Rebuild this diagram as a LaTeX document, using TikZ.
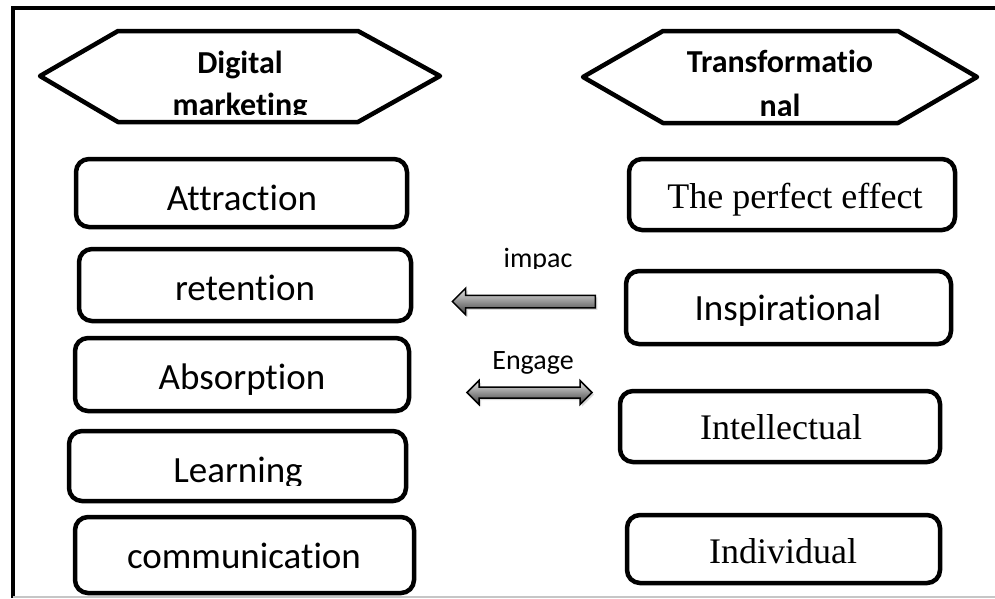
\documentclass[tikz,border=0pt]{standalone}
\usepackage{fontspec}
\setmainfont{Liberation Serif}
\newfontfamily\calibri[Ligatures=NoCommon]{Carlito}
\usetikzlibrary{shapes.arrows,shadows}

\tikzset{
  frameline/.style={line width=4pt, line join=miter},
  hexa/.style={draw, line width=4.5pt, line join=round},
  hextitle/.style={font=\calibri\bfseries\fontsize{32}{38}\selectfont, inner sep=0pt, anchor=base},
  box/.style={draw, line width=4.5pt, rounded corners=13pt, inner sep=0pt},
  sanslbl/.style={font=\calibri\fontsize{37}{44}\selectfont, inner sep=0pt, anchor=base},
  seriflbl/.style={font=\fontsize{36}{43}\selectfont, inner sep=0pt, anchor=base},
  arrowlbl/.style={font=\calibri\fontsize{28}{34}\selectfont, inner sep=0pt, anchor=base},
  blockarrow/.style={draw=black, line width=1.5pt, top color=gray!20, bottom color=black!75,
    inner xsep=0pt, drop shadow={shadow xshift=2pt, shadow yshift=-2pt, opacity=0.3}},
}

\begin{document}
\begin{tikzpicture}[x=1pt, y=-1pt]
\useasboundingbox (0,0) rectangle (995,598);

% frame
\draw[frameline] (995,8) -- (13,8) -- (13,598);
\draw[line width=1.5pt, gray!45] (13,597) -- (995,597);

% headings
\draw[hexa] (40,76) -- (118,31) -- (358,31) -- (440,76) -- (358,122) -- (118,122) -- cycle;
\draw[hexa] (583,77) -- (663,31) -- (898,31) -- (977,77) -- (898,123) -- (663,123) -- cycle;
\begin{scope}
  \clip (40,20) rectangle (440,114);
  \node[hextitle] (dm1) at (240,73) {Digital};
  \node[hextitle] (dm2) at (240,115) {marketing};
\end{scope}
\begin{scope}
  \clip (583,20) rectangle (977,115);
  \node[hextitle] (tf1) at (780,72) {Transformatio};
  \node[hextitle] (tf2) at (780,116) {nal};
\end{scope}

% left column
\node[box, minimum width=331pt, minimum height=68pt] (attr) at (241.5,193) {};
\node[sanslbl] (attr-t) at (242,210) {Attraction};
\node[box, minimum width=332pt, minimum height=72pt] (ret) at (245,285) {};
\node[sanslbl] (ret-t) at (245,300) {retention};
\node[box, minimum width=334pt, minimum height=73pt] (abs) at (242,374.5) {};
\node[sanslbl] (abs-t) at (242,389) {Absorption};
\node[box, minimum width=337pt, minimum height=70pt] (learn) at (237.5,466) {};
\begin{scope}
  \clip (70,420) rectangle (405,485);
  \node[sanslbl] (learn-t) at (238,482) {Learning};
\end{scope}
\node[box, minimum width=339pt, minimum height=76pt] (comm) at (244.5,555) {};
\node[sanslbl] (comm-t) at (244,568) {communication};

% right column
\node[box, minimum width=326pt, minimum height=71pt] (perf) at (792,194.5) {};
\node[seriflbl] (perf-t) at (795,208) {The perfect effect};
\node[box, minimum width=325pt, minimum height=73pt] (insp) at (788.5,307.5) {};
\node[sanslbl] (insp-t) at (788,320) {Inspirational};
\node[box, minimum width=320pt, minimum height=71pt] (intel) at (780,426.5) {};
\node[seriflbl] (intel-t) at (781,439) {Intellectual};
\node[box, minimum width=313pt, minimum height=68pt] (indiv) at (783.5,549) {};
\node[seriflbl] (indiv-t) at (783,563) {Individual};

% relation arrows
\begin{scope}
  \clip (480,230) rectangle (600,268);
  \node[arrowlbl] (impact-t) at (538,267) {impac};
\end{scope}
\node[blockarrow, single arrow, shape border rotate=180, inner ysep=5.5pt,
      single arrow head extend=7pt, minimum height=143pt, minimum width=25pt] (impact) at (527,301.5) {};
\node[arrowlbl] (engage-t) at (533,369) {Engage};
\node[blockarrow, double arrow, inner ysep=4.75pt,
      double arrow head extend=6.5pt, minimum height=125pt, minimum width=22.5pt] (engage) at (529.5,392.5) {};
\end{tikzpicture}
\end{document}
